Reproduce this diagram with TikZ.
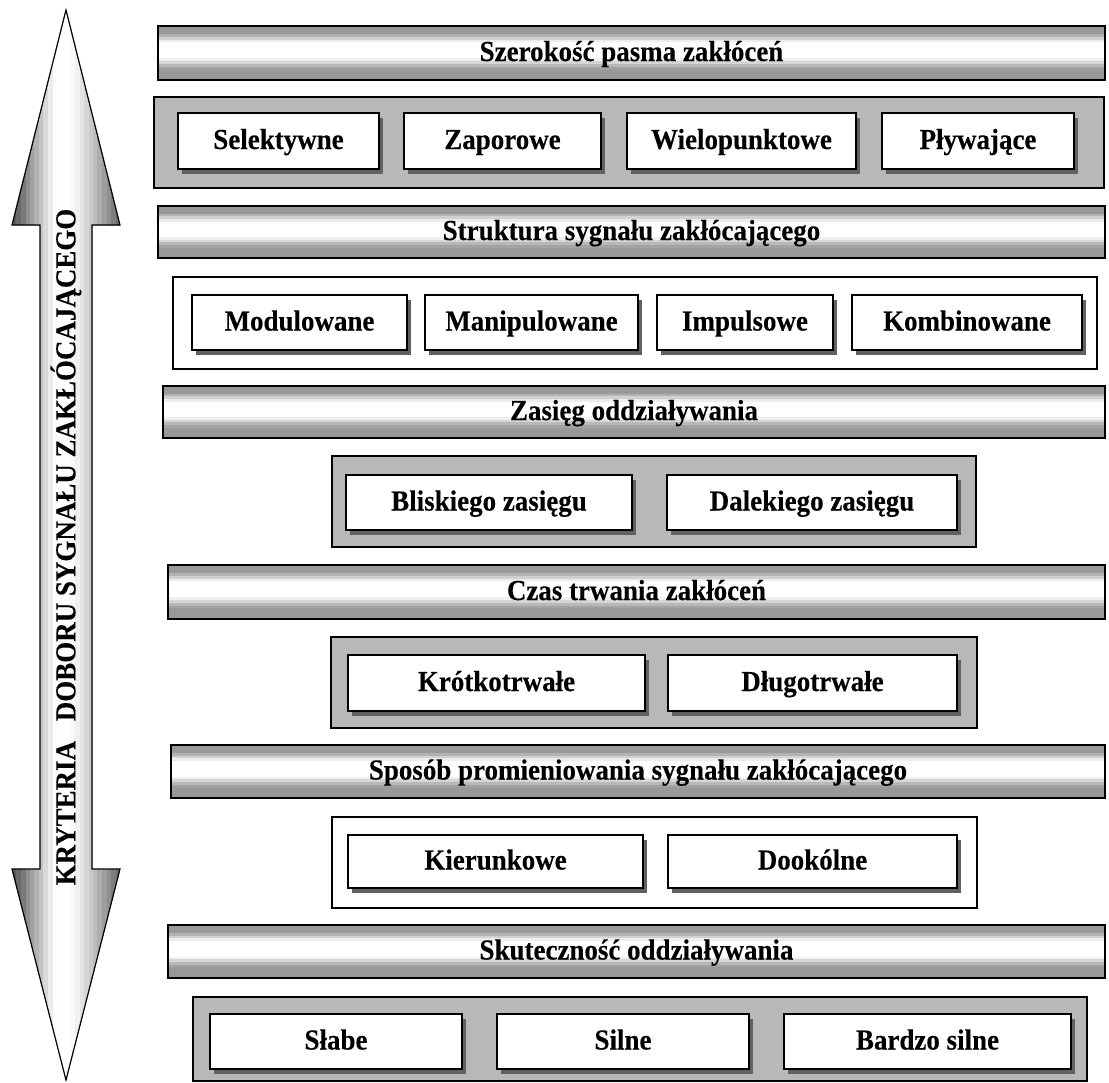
\documentclass[tikz,border=0pt]{standalone}
\usepackage{fontspec}
\setmainfont{Liberation Serif}
\newfontfamily\lblfont{Liberation Serif}[FakeStretch=0.93,FakeBold=0.2]
\usetikzlibrary{shadows,calc}

\newcommand{\lbl}{\lblfont\fontsize{29bp}{32bp}\selectfont\bfseries}

\begin{document}
\begin{tikzpicture}[x=1bp,y=-1bp,
  txt/.style={font=\lbl, text height=21bp, text depth=5bp, inner sep=0pt},
  % criterion bar: gray top and bottom edges, wide white band behind the title
  bar/.style={draw, line width=1.3bp, txt, path picture={
      \foreach \k/\c in {0/40,3/30,4/18,5/7,6/0,12/6,13/16,14/28,15/36,16/40}
        \fill[black!\c] ($(path picture bounding box.north west)!\k/20!(path picture bounding box.south west)$)
          rectangle (path picture bounding box.south east);}},
  grp/.style={draw, line width=1.2bp, fill=black!28, inner sep=0pt},
  grpw/.style={grp, fill=white},
  item/.style={draw, line width=1.3bp, fill=white, txt,
    drop shadow={shadow xshift=4bp, shadow yshift=-5bp, fill=black!62, opacity=1}},
  sz/.style n args={2}{minimum width=#1bp, minimum height=#2bp},
  % double-headed arrow: dark left edge, white core, gray right edge
  bigarrow/.style={draw, line width=1.2bp, path picture={
      \foreach \k/\c in {0/66,1/59,2/52,3/44,4/37,5/30,6/23,7/15,8/8,9/1,10/0,13/2,14/6,
                         15/11,16/16,17/21,18/26,19/32,20/38,21/44,22/51,23/57}
        \fill[black!\c] ($(path picture bounding box.north west)!\k/24!(path picture bounding box.north east)$)
          rectangle (path picture bounding box.south east);}},
  arrowtext/.style={font=\lbl, rotate=90}]

\useasboundingbox[fill=white] (0,0) rectangle (1109,1083);

% vertical double-headed arrow with its caption
\path[bigarrow] (66,10) -- (120,225) -- (92,225) -- (92,869) -- (120,869) -- (66,1080)
  -- (12,869) -- (40,869) -- (40,225) -- (12,225) -- cycle;
\node[arrowtext] (crit) at (66,547) {KRYTERIA\hspace{0.45em} DOBORU SYGNAŁU ZAKŁÓCAJĄCEGO};

% 1. bandwidth
\node[bar, sz={947}{54}] (b1) at (631.5,53) {Szerokość pasma zakłóceń};
\node[grp, sz={950}{91}] (g1) at (629,142.5) {};
\node[item, sz={201}{56}] (sel) at (278.5,141) {Selektywne};
\node[item, sz={197}{56}] (zap) at (502.5,141) {Zaporowe};
\node[item, sz={229}{56}] (wiel) at (741.5,141) {Wielopunktowe};
\node[item, sz={192}{56}] (plyw) at (978,141) {Pływające};

% 2. signal structure
\node[bar, sz={947}{52}] (b2) at (631.5,232) {Struktura sygnału zakłócającego};
\node[grpw, sz={924}{92}] (g2) at (635,323) {};
\node[item, sz={215}{55}] (mod) at (299.5,322.5) {Modulowane};
\node[item, sz={213}{55}] (man) at (531.5,322.5) {Manipulowane};
\node[item, sz={176}{55}] (imp) at (745,322.5) {Impulsowe};
\node[item, sz={230}{55}] (komb) at (967,322.5) {Kombinowane};

% 3. range
\node[bar, sz={942}{52}] (b3) at (634,412) {Zasięg oddziaływania};
\node[grp, sz={644}{91}] (g3) at (654,501.5) {};
\node[item, sz={286}{55}] (blis) at (489,502.5) {Bliskiego zasięgu};
\node[item, sz={290}{55}] (dal) at (812,502.5) {Dalekiego zasięgu};

% 4. duration
\node[bar, sz={937}{54}] (b4) at (636.5,592) {Czas trwania zakłóceń};
\node[grp, sz={646}{91}] (g4) at (654,682.5) {};
\node[item, sz={297}{56}] (krot) at (496.5,683) {Krótkotrwałe};
\node[item, sz={289}{56}] (dlug) at (812.5,683) {Długotrwałe};

% 5. radiation pattern
\node[bar, sz={934}{53}] (b5) at (638,771.5) {Sposób promieniowania sygnału zakłócającego};
\node[grpw, sz={645}{91}] (g5) at (654.5,862.5) {};
\node[item, sz={295}{53}] (kier) at (495.5,861.5) {Kierunkowe};
\node[item, sz={289}{53}] (dook) at (812.5,861.5) {Dookólne};

% 6. effectiveness
\node[bar, sz={937}{53}] (b6) at (636.5,951.5) {Skuteczność oddziaływania};
\node[grp, sz={894}{84}] (g6) at (640,1039) {};
\node[item, sz={252}{55}] (slab) at (336,1041.5) {Słabe};
\node[item, sz={252}{55}] (siln) at (623,1041.5) {Silne};
\node[item, sz={287}{55}] (bsil) at (927.5,1041.5) {Bardzo silne};

\end{tikzpicture}
\end{document}
